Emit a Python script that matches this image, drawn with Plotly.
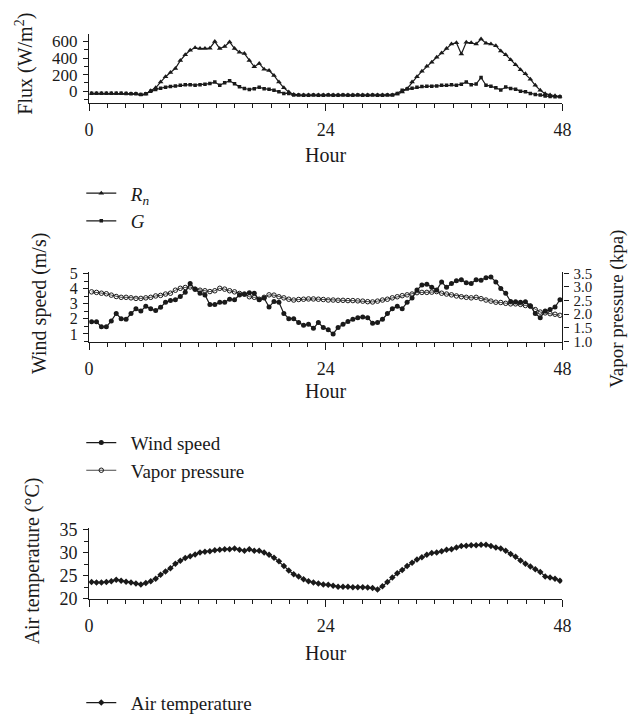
import plotly.graph_objects as go

# ---------------- data (half-hour slots over 48 h) ----------------
hours = [0.25 + 0.5 * i for i in range(96)]

rn = [-28, -28, -27, -28, -28, -27, -28, -28, -30, -32, -42, -35,
      5, 40, 110, 175, 225, 275, 370, 440, 495, 525, 515, 515, 520, 600,
      515, 540, 595, 515, 470, 455, 370, 295, 335, 265, 250, 190, 110, 40, -10, -40,
      -45, -47, -47, -46, -47, -47, -46, -47, -47, -46, -47, -47, -46, -47, -47, -47, -46, -47, -47, -45,
      -35, -10, 30, 110, 175, 240, 300, 350, 410, 460, 515, 570, 585, 450, 590, 585, 570, 630,
      580, 570, 550, 485, 440, 380, 320, 260, 210, 145, 70, 10, -30, -45, -55, -65]

g = [-25, -25, -24, -25, -25, -25, -26, -27, -30, -32, -40, -32,
     0, 20, 35, 48, 55, 62, 70, 78, 78, 72, 78, 85, 92, 110,
     72, 102, 125, 90, 52, 32, 20, 30, 47, 30, 24, 12, -8, -27, -28, -45,
     -47, -48, -48, -47, -48, -48, -47, -48, -48, -47, -48, -48, -47, -48, -48, -47, -48, -48, -47, -45,
     -27, 12, 25, 35, 47, 55, 58, 60, 63, 70, 72, 78, 72, 85, 110, 78, 86, 165,
     72, 60, 40, 15, 50, 32, 24, 0, -8, -27, -40, -47, -58, -65, -67, -67]

wind = [1.80, 1.80, 1.47, 1.47, 1.86, 2.35, 2.01, 1.97, 2.35, 2.66,
        2.51, 2.83, 2.66, 2.55, 2.76, 3.09, 3.22, 3.26, 3.47, 3.75,
        4.33, 3.95, 3.69, 3.58, 2.94, 2.94, 3.09, 3.09, 3.30, 3.26,
        3.58, 3.62, 3.73, 3.69, 3.26, 3.37, 2.78, 3.15, 3.09, 2.35,
        2.01, 2.01, 1.75, 1.58, 1.65, 1.37, 1.75, 1.43, 1.28, 1.00,
        1.43, 1.65, 1.82, 1.97, 2.08, 2.12, 2.08, 1.71, 1.75, 1.97,
        2.35, 2.66, 2.83, 2.66, 3.09, 3.37, 3.90, 4.23, 4.29, 4.08,
        3.90, 4.44, 4.08, 4.33, 4.51, 4.59, 4.38, 4.33, 4.59, 4.55,
        4.72, 4.76, 4.44, 4.01, 3.69, 3.15, 3.13, 3.09, 3.13, 2.87,
        2.35, 2.08, 2.51, 2.61, 2.78, 3.26]

vapor = [2.82, 2.80, 2.77, 2.75, 2.70, 2.65, 2.62, 2.62, 2.60, 2.58,
         2.58, 2.60, 2.62, 2.67, 2.69, 2.74, 2.77, 2.88, 2.95, 2.98,
         3.00, 2.92, 2.88, 2.86, 2.83, 2.86, 2.95, 2.92, 2.86, 2.82,
         2.76, 2.74, 2.64, 2.62, 2.55, 2.62, 2.71, 2.70, 2.64, 2.60,
         2.55, 2.52, 2.54, 2.55, 2.56, 2.56, 2.55, 2.54, 2.52, 2.52,
         2.51, 2.51, 2.50, 2.50, 2.49, 2.48, 2.46, 2.45, 2.48, 2.52,
         2.55, 2.60, 2.64, 2.68, 2.71, 2.74, 2.79, 2.80, 2.80, 2.81,
         2.83, 2.77, 2.74, 2.71, 2.67, 2.64, 2.62, 2.60, 2.62, 2.57,
         2.52, 2.48, 2.44, 2.43, 2.40, 2.38, 2.38, 2.36, 2.32, 2.29,
         2.17, 2.08, 2.05, 2.02, 2.00, 1.96]

air = [23.6, 23.5, 23.5, 23.6, 23.8, 24.1, 23.9, 23.7, 23.5, 23.3,
       23.1, 23.4, 23.8, 24.3, 25.2, 25.9, 26.6, 27.6, 28.2, 28.8,
       29.2, 29.6, 30.0, 30.2, 30.3, 30.5, 30.6, 30.7, 30.7, 30.9,
       30.6, 30.4, 30.7, 30.4, 30.4, 30.0, 29.5, 28.9, 28.1, 27.1,
       26.1, 25.3, 24.8, 24.2, 23.8, 23.5, 23.3, 23.1, 23.0, 22.8,
       22.6, 22.6, 22.6, 22.5, 22.5, 22.5, 22.4, 22.3, 22.0, 22.7,
       23.6, 24.6, 25.5, 26.2, 27.1, 27.8, 28.5, 29.0, 29.5, 29.9,
       30.0, 30.3, 30.6, 30.7, 31.1, 31.4, 31.5, 31.6, 31.6, 31.7,
       31.7, 31.4, 31.1, 30.9, 30.4, 29.7, 29.1, 28.3, 27.6, 27.0,
       26.4, 25.8, 24.8, 24.6, 24.3, 23.9]

x_ticks = [0, 24, 48]
x_minor_step = 24 / 13

# ---------------- layout helpers ----------------
W, H = 634, 722
FONT = "Liberation Serif"


def px_x(p):
    return p / W


def px_y(p):
    return 1 - p / H


BLACK = "#1a1a1a"
SP = "\u2002"
xdom = [px_x(86), px_x(570)]

fig = go.Figure()

line = dict(color=BLACK, width=1.2)

fig.add_trace(go.Scatter(x=hours, y=rn, mode="lines+markers", name=SP + "<i>R<sub>n</sub></i>",
                         line=line, marker=dict(symbol="triangle-up", size=5, color=BLACK),
                         xaxis="x", yaxis="y", legend="legend"))
fig.add_trace(go.Scatter(x=hours, y=g, mode="lines+markers", name=SP + "<i>G</i>",
                         line=line, marker=dict(symbol="square", size=3.5, color=BLACK),
                         xaxis="x", yaxis="y", legend="legend"))
fig.add_trace(go.Scatter(x=hours, y=wind, mode="lines+markers", name=SP + "Wind speed",
                         line=line, marker=dict(symbol="circle", size=5, color=BLACK),
                         xaxis="x2", yaxis="y2", legend="legend2"))
fig.add_trace(go.Scatter(x=hours, y=vapor, mode="lines+markers", name=SP + "Vapor pressure",
                         line=dict(color=BLACK, width=0.8),
                         marker=dict(symbol="circle-open", size=4.5, color=BLACK, line=dict(width=1)),
                         xaxis="x2", yaxis="y3", legend="legend2"))
fig.add_trace(go.Scatter(x=hours, y=air, mode="lines+markers", name=SP + "Air temperature",
                         line=line, marker=dict(symbol="diamond", size=5, color=BLACK),
                         xaxis="x3", yaxis="y4", legend="legend3"))


def tf(size):
    return dict(family=FONT, size=size, color=BLACK)


def xaxis(anchor):
    return dict(domain=xdom, anchor=anchor, range=[0, 48], tickvals=x_ticks,
                ticks="outside", ticklen=7, tickwidth=1.2, tickcolor=BLACK,
                showline=True, linecolor=BLACK, linewidth=1.2, showgrid=False, zeroline=False,
                tickfont=tf(18), ticklabelstandoff=4,
                minor=dict(tick0=0, dtick=x_minor_step, ticks="outside", ticklen=4,
                           tickwidth=1, tickcolor=BLACK, showgrid=False))


def yaxis(anchor, dom, rng, dtick, minor, size, side="left", fmt=None, overlay=None):
    d = dict(domain=dom, anchor=anchor, range=rng, dtick=dtick, tick0=0, side=side,
             ticks="outside", ticklen=5, tickwidth=1.2, tickcolor=BLACK,
             showline=True, linecolor=BLACK, linewidth=1.2, showgrid=False, zeroline=False,
             tickfont=tf(size), ticklabelstandoff=2,
             minor=dict(tick0=0, dtick=minor, ticks="outside", ticklen=4, tickwidth=1,
                        tickcolor=BLACK, showgrid=False))
    if fmt:
        d["tickformat"] = fmt
    if overlay:
        d["overlaying"] = overlay
    return d


top_dom = [px_y(98), px_y(27)]
mid_dom = [px_y(345), px_y(273)]
bot_dom = [px_y(611), px_y(538)]

leg = dict(xanchor="left", yanchor="top", bgcolor="rgba(0,0,0,0)",
           font=dict(family=FONT, size=19, color=BLACK), tracegroupgap=0)

fig.update_layout(
    width=W, height=H, margin=dict(l=0, r=0, t=0, b=0, pad=0),
    paper_bgcolor="white", plot_bgcolor="white",
    font=dict(family=FONT, size=19, color=BLACK),
    xaxis=xaxis("y"),
    xaxis2=xaxis("y2"),
    xaxis3=xaxis("y4"),
    yaxis=yaxis("x", top_dom, [-140, 690], 200, 100, 17),
    yaxis2=yaxis("x2", mid_dom, [0.5, 5.1], 1, 0.5, 16),
    yaxis3=yaxis("x2", mid_dom, [1.0, 3.55], 0.5, 0.5, 15, side="right", fmt=".1f", overlay="y2"),
    yaxis4=yaxis("x3", bot_dom, [20, 35.3], 5, 2.5, 18),
    legend=dict(leg, x=px_x(78), y=px_y(172)),
    legend2=dict(leg, x=px_x(78), y=px_y(430)),
    legend3=dict(leg, x=px_x(78), y=px_y(699)),
)

ann_font = dict(family=FONT, size=20, color=BLACK)
annotations = [
    dict(text="Hour", x=px_x(328), y=px_y(152)),
    dict(text="Hour", x=px_x(328), y=px_y(396)),
    dict(text="Hour", x=px_x(328), y=px_y(667)),
    dict(text="Flux (W/m<sup>2</sup>)", x=px_x(19), y=px_y(58), textangle=-90),
    dict(text="Wind speed (m/s)", x=px_x(36), y=px_y(306), textangle=-90),
    dict(text="Vapor pressure (kpa)", x=px_x(625), y=px_y(311), textangle=-90,
         font=dict(family=FONT, size=19, color=BLACK)),
    dict(text="Air temperature (°C)", x=px_x(29), y=px_y(572), textangle=-90),
]
for a in annotations:
    a.update(xref="paper", yref="paper", showarrow=False, xanchor="center", yanchor="middle")
    a.setdefault("font", ann_font)
fig.update_layout(annotations=annotations)

fig.write_html("out.html")
